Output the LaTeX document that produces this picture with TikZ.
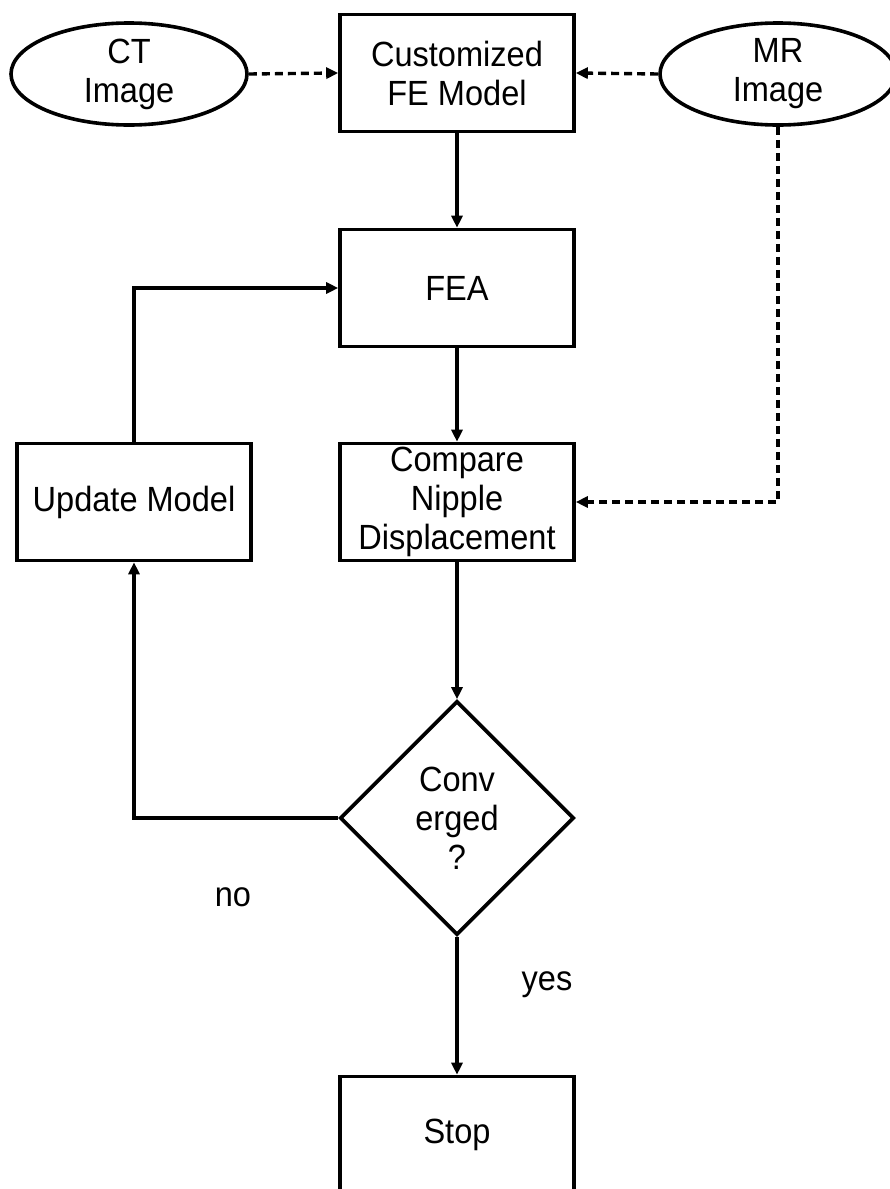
\documentclass[tikz,border=0pt]{standalone}
\usepackage{fontspec}
\setmainfont{Liberation Sans}[FakeStretch=0.93]
\usetikzlibrary{shapes.geometric,arrows.meta}
\begin{document}
\begin{tikzpicture}[x=1pt,y=-1pt,
  every node/.style={font=\fontsize{35}{39}\selectfont, align=center},
  outline/.style={draw=black, line width=3.6pt, fill=white},
  procbox/.style={outline, rectangle, minimum width=234pt, minimum height=117pt, inner sep=2pt},
  imgellipse/.style={outline, ellipse, minimum width=236pt, minimum height=102pt, inner sep=0pt},
  decision/.style={outline, diamond, minimum width=234pt, minimum height=234pt, inner sep=0pt},
  link/.style={line width=3.4pt, -{Triangle[length=12pt 0, width=11pt 0]}},
  dashlink/.style={link, dash pattern=on 8pt off 5pt},
  lbl/.style={font=\fontsize{30}{34}\selectfont}]
\useasboundingbox (0,0) rectangle (890,1189);

% inputs and model
\node[imgellipse] (ct) at (129,74) {CT\\Image};
\node[procbox] (cfe) at (457,73) {Customized\\FE Model};
\node[imgellipse] (mr) at (778,74) {MR\\Image};

% main loop
\node[procbox] (fea) at (457,288) {FEA};
\node[procbox] (cmp) at (457,502) {Compare\\Nipple\\Displacement};
\node[procbox] (upd) at (134,502) {Update Model};
\node[decision] (conv) at (457,818) {Conv\\erged\\?};
\node[procbox] (stop) at (457,1135) {Stop};

% branch labels
\node (no) at (233,897) {no};
\node (yes) at (547,985) {yes};

% connectors
\draw[dashlink] (ct.east) -- (cfe.west);
\draw[dashlink] (mr.west) -- (cfe.east);
\draw[link] (cfe.south) -- (fea.north);
\draw[link] (fea.south) -- (cmp.north);
\draw[link] (cmp.south) -- (conv.north);
\draw[link] (conv.south) -- (stop.north);
\draw[dashlink] (mr.south) |- (cmp.east);
\draw[link] (upd.north) |- (fea.west);
\draw[link] (conv.west) -| (upd.south);
\end{tikzpicture}
\end{document}
